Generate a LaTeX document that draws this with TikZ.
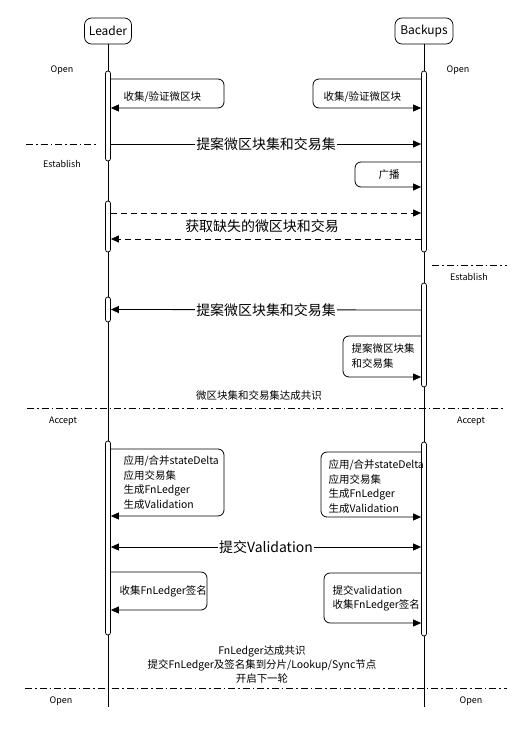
\documentclass[tikz,border=0pt]{standalone}
\usepackage{fontspec}
\setmainfont{Noto Sans CJK SC}
\usetikzlibrary{arrows.meta,positioning}

\tikzset{
    actor/.style={draw, rounded corners=7bp, minimum height=26bp, inner xsep=4bp,
    font=\fontsize{12}{14}\selectfont},
    bar/.style={draw, fill=white, rounded corners=2.4bp, minimum width=5bp, inner sep=0pt},
    msg/.style={-{Triangle[length=8bp,width=7bp]}, line width=0.8pt},
    selfmsg/.style={msg, rounded corners=6bp},
    phase/.style={line width=0.6pt, dash pattern=on 7bp off 3bp on 1.5bp off 3bp},
    small/.style={font=\fontsize{10.5}{14.5}\selectfont, align=left},
    big/.style={font=\fontsize{14}{16}\selectfont},
    tiny/.style={font=\fontsize{9}{11}\selectfont},
}

\begin{document}
\begin{tikzpicture}[x=1bp, y=-1bp, line width=0.75pt]
    \useasboundingbox (0,0) rectangle (530,736);

    \node[actor, minimum width=47bp] (Leader) at (108,31) {Leader};
    \node[actor, minimum width=58bp] (Backups) at (424,31) {Backups};
    \coordinate (end) at (0,707);
    \draw (Leader.south) -- (Leader.south |- end);
    \draw (Backups.south) -- (Backups.south |- end);

    \node[bar, minimum height=90bp] (l1) at (108,116) {};
    \node[bar, minimum height=51bp] (l2) at (108,226.5) {};
    \node[bar, minimum height=25bp] (l3) at (108,309.5) {};
    \node[bar, minimum height=194bp] (l4) at (108,538) {};
    \node[bar, minimum height=181bp] (b1) at (424,161.5) {};
    \node[bar, minimum height=104bp] (b2) at (424,335) {};
    \node[bar, minimum height=194bp] (b3) at (424,539) {};

    \node[tiny] (open1) at (62,70) {Open};
    \node[tiny] (open2) at (458,70) {Open};

    \draw[selfmsg] (l1.east |- 0,79) -- (224,79) -- (224,108) -- (l1.east |- 0,108);
    \node[small, anchor=west] (collect1) at (120,97) {收集/验证微区块};
    \draw[selfmsg] (b1.west |- 0,79) -- (313,79) -- (313,108) -- (b1.west |- 0,108);
    \node[small, anchor=west] (collect2) at (320,97) {收集/验证微区块};

    \draw[msg] (l1.east |- 0,144) -- node[big, fill=white, inner sep=1bp] (prop1) {提案微区块集和交易集}
    (b1.west |- 0,144);
    \draw[phase] (26,144) -- (97,144);
    \node[tiny] (est1) at (62,164) {Establish};

    \draw[selfmsg] (b1.west |- 0,162) -- (355,162) -- (355,187) -- (b1.west |- 0,187);
    \node[small] (bcast) at (389,175) {广播};

    \draw[msg, dash pattern=on 6bp off 4bp] (l2.east |- 0,213) -- (b1.west |- 0,213);
    \draw[msg, dash pattern=on 6bp off 4bp] (b1.west |- 0,239) -- (l2.east |- 0,239);
    \node[big] (fetch) at (262,226) {获取缺失的微区块和交易};

    \draw[phase] (432,265) -- (507,265);
    \node[tiny] (est2) at (469,277) {Establish};

    \draw[msg] (b2.west |- 0,310) -- node[big, fill=white, inner sep=1bp] (prop2) {提案微区块集和交易集}
    (l3.east);
    \draw[selfmsg] (b2.west |- 0,336) -- (343,336) -- (343,377) -- (b2.west |- 0,377);
    \node[small, anchor=west] (prop3) at (348,356) {提案微区块集\\和交易集};

    \node[small] (agree1) at (259,396) {微区块集和交易集达成共识};
    \draw[phase] (27,408) -- (505,408);
    \node[tiny] (acc1) at (63,421) {Accept};
    \node[tiny] (acc2) at (471,421) {Accept};

    \draw[selfmsg] (l4.east |- 0,449) -- (224,449) -- (224,516) -- (l4.east |- 0,516);
    \node[small, anchor=west] (apply1) at (120,482.5) {应用/合并stateDelta\\应用交易集\\生成FnLedger\\生成Validation};
    \draw[selfmsg] (b3.west |- 0,452) -- (321,452) -- (321,517) -- (b3.west |- 0,517);
    \node[small, anchor=west] (apply2) at (325,486.5) {应用/合并stateDelta\\应用交易集\\生成FnLedger\\生成Validation};

    \draw[msg, {Triangle[length=8bp,width=7bp]}-{Triangle[length=8bp,width=7bp]}]
    (l4.east |- 0,547) -- node[big, fill=white, inner sep=1bp] (valid) {提交Validation} (b3.west |- 0,547);

    \draw[selfmsg] (l4.east |- 0,572) -- (207,572) -- (207,610) -- (l4.east |- 0,610);
    \node[small, anchor=west] (sign1) at (116,591) {收集FnLedger签名};
    \draw[selfmsg] (b3.west |- 0,573) -- (324,573) -- (324,623) -- (b3.west |- 0,623);
    \node[small, anchor=west] (sign2) at (329,598.5) {提交validation\\收集FnLedger签名};

    \node[small, align=center] (agree2) at (262,664.5) {FnLedger达成共识\\提交FnLedger及签名集到分片/Lookup/Sync节点\\开启下一轮};
    \draw[phase] (25,688) -- (507,688);
    \node[tiny] (open3) at (61,701) {Open};
    \node[tiny] (open4) at (471,701) {Open};
\end{tikzpicture}
\end{document}
